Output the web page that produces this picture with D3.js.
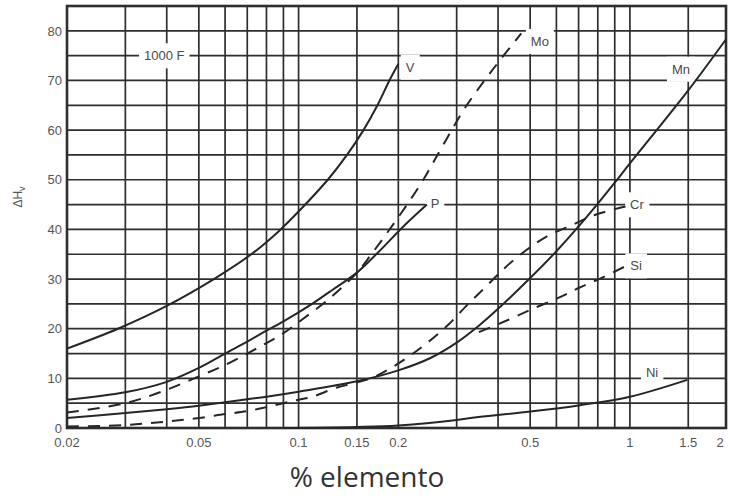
<!DOCTYPE html>
<html>
<head>
<meta charset="utf-8">
<script src="https://cdn.jsdelivr.net/npm/d3@7"></script>
<style>
  html, body { margin: 0; padding: 0; background: #fff; }
  svg { display: block; }
</style>
</head>
<body>
<svg id="chart" width="730" height="499"></svg>
<script>
// Axis values
const xTickLabels = [0.02, 0.05, 0.1, 0.15, 0.2, 0.5, 1, 1.5, 2];
const xGridValues = [0.03, 0.04, 0.05, 0.06, 0.07, 0.08, 0.09, 0.1, 0.15, 0.2,
                     0.3, 0.4, 0.5, 0.6, 0.7, 0.8, 0.9, 1, 1.5];
const yTickLabels = [0, 10, 20, 30, 40, 50, 60, 70, 80];
const yGridValues = [5, 10, 15, 20, 25, 30, 35, 40, 45, 50, 55, 60, 65, 70, 75, 80];

// Hardness increase (ΔHv) after tempering at 1000 F, versus % of each element
const seriesV  = [[0.02,16],[0.0285,20],[0.04,24.6],[0.0555,30],[0.072,35],[0.087,39.6],
                  [0.1,43.6],[0.1225,50],[0.14,55],[0.157,60],[0.173,65],[0.188,70],[0.2,73.3]];
const seriesMo = [[0.02,3.1],[0.03,5.0],[0.04,7.7],[0.05,10.4],[0.06,12.7],[0.07,15.0],
                  [0.08,17.1],[0.09,19.1],[0.1,21.3],[0.125,26.3],[0.15,31.3],[0.165,34.8],
                  [0.185,39.3],[0.21,44.5],[0.238,50],[0.26,54.5],[0.287,59.5],[0.318,64.5],
                  [0.364,70],[0.41,74.5],[0.47,79.5]];
const seriesP  = [[0.02,5.7],[0.03,7.2],[0.04,9.3],[0.05,12.1],[0.06,15.0],[0.07,17.4],
                  [0.08,19.6],[0.09,21.5],[0.1,23.3],[0.111,25.2],[0.127,27.9],[0.15,31.3],
                  [0.174,35.4],[0.205,40.3],[0.244,45]];
const seriesMn = [[0.02,2.0],[0.03,3.0],[0.04,3.8],[0.05,4.5],[0.06,5.2],[0.07,5.8],
                  [0.08,6.3],[0.1,7.3],[0.15,9.4],[0.2,11.6],[0.25,14.1],[0.3,17.2],
                  [0.35,20.6],[0.4,24.0],[0.5,30.2],[0.6,35.6],[0.7,40.6],[0.8,45.2],
                  [0.9,49.4],[1,53.3],[1.5,68],[1.95,78.3]];
const seriesCr = [[0.02,0.3],[0.03,0.6],[0.04,1.3],[0.05,2.0],[0.06,2.8],[0.07,3.4],
                  [0.08,4.2],[0.09,5.0],[0.1,5.7],[0.11,6.3],[0.13,8.1],[0.165,10.0],
                  [0.19,12.1],[0.215,14.4],[0.245,17.2],[0.283,20.8],[0.323,24.8],
                  [0.368,28.5],[0.42,32.3],[0.486,35.8],[0.562,38.6],[0.664,40.8],
                  [0.79,43],[0.97,44.6]];
const seriesSi = [[0.35,19.3],[0.43,21.8],[0.517,24.2],[0.608,26.2],
                  [0.70,28.2],[0.831,30.4],[0.977,32.7]];
const seriesNi = [[0.09,0],[0.15,0.2],[0.2,0.5],[0.3,1.6],[0.33,2.0],[0.5,3.3],
                  [0.707,4.6],[1.0,6.3],[1.49,9.7]];

const curves = [
  { name: "V",  data: seriesV,  dashed: false },
  { name: "Mo", data: seriesMo, dashed: true  },
  { name: "P",  data: seriesP,  dashed: false },
  { name: "Mn", data: seriesMn, dashed: false },
  { name: "Cr", data: seriesCr, dashed: true  },
  { name: "Si", data: seriesSi, dashed: true  },
  { name: "Ni", data: seriesNi, dashed: false }
];

const svg = d3.select("#chart");
const plotL = 67, plotR = 726, plotT = 6, plotB = 428;

const x = d3.scaleLog().domain([0.02, 1.95]).range([plotL, plotR]);
const y = d3.scaleLinear().domain([0, 85]).range([plotB, plotT]);

const gridColor = "#2e2e2e";
const font = "'Liberation Sans', Arial, Helvetica, sans-serif";

// layers: grid, label backgrounds, curves, label text
const gridG  = svg.append("g");
const boxG   = svg.append("g");
const curveG = svg.append("g");
const textG  = svg.append("g");

gridG.selectAll("line.h").data(yGridValues).join("line").attr("class", "h")
  .attr("x1", plotL).attr("x2", plotR)
  .attr("y1", d => y(d)).attr("y2", d => y(d))
  .attr("stroke", gridColor).attr("stroke-width", 1.7);
gridG.selectAll("line.v").data(xGridValues).join("line").attr("class", "v")
  .attr("x1", d => x(d)).attr("x2", d => x(d))
  .attr("y1", plotT).attr("y2", plotB)
  .attr("stroke", gridColor).attr("stroke-width", 1.7);
gridG.append("rect")
  .attr("x", plotL).attr("y", plotT)
  .attr("width", plotR - plotL).attr("height", plotB - plotT)
  .attr("fill", "none").attr("stroke", gridColor).attr("stroke-width", 2.6);

// curve names and the temperature note, placed in data coordinates
const labels = [
  { text: "V",      xv: 0.217, yv: 72.7 },
  { text: "Mo",     xv: 0.535, yv: 77.9 },
  { text: "P",      xv: 0.258, yv: 45.2 },
  { text: "Mn",     xv: 1.426, yv: 72.3 },
  { text: "Cr",     xv: 1.05,  yv: 45.0 },
  { text: "Si",     xv: 1.044, yv: 32.7 },
  { text: "Ni",     xv: 1.167, yv: 11.3 },
  { text: "1000 F", xv: 0.0393, yv: 75.0 }
];

const labelTexts = textG.selectAll("text").data(labels).join("text")
  .attr("x", d => x(d.xv)).attr("y", d => y(d.yv)).attr("dy", "0.36em")
  .attr("text-anchor", "middle")
  .attr("font-family", font).attr("font-size", 13).attr("fill", "#4a4a4a")
  .text(d => d.text);
labelTexts.each(function() {
  const b = this.getBBox();
  boxG.append("rect")
    .attr("x", b.x - 5).attr("y", b.y - 5)
    .attr("width", b.width + 10).attr("height", b.height + 10)
    .attr("fill", "#fff");
});

// curves
const line = d3.line().x(d => x(d[0])).y(d => y(d[1])).curve(d3.curveCatmullRom.alpha(0.5));
curveG.selectAll("path").data(curves).join("path")
  .attr("d", d => line(d.data))
  .attr("fill", "none").attr("stroke", "#262626").attr("stroke-width", 2)
  .attr("stroke-dasharray", d => d.dashed ? "12,9" : null);

// y tick labels
svg.append("g").selectAll("text").data(yTickLabels).join("text")
  .attr("x", plotL - 5).attr("y", d => y(d)).attr("dy", "0.36em")
  .attr("text-anchor", "end")
  .attr("font-family", font).attr("font-size", 13).attr("fill", "#555")
  .text(d => d);

// x tick labels (the last one sits just inside the right edge)
svg.append("g").selectAll("text").data(xTickLabels).join("text")
  .attr("x", d => Math.min(x(d), plotR - 6)).attr("y", plotB + 19)
  .attr("text-anchor", "middle")
  .attr("font-family", font).attr("font-size", 13).attr("fill", "#555")
  .text(d => d);

// y axis title
const yt = svg.append("text")
  .attr("transform", `translate(22,${(plotT + plotB) / 2 - 20}) rotate(-90)`)
  .attr("text-anchor", "middle")
  .attr("font-family", font).attr("font-size", 12).attr("fill", "#555");
yt.append("tspan").text("ΔH");
yt.append("tspan").attr("font-size", 9).attr("dy", 3).text("v");

// x axis title
svg.append("text")
  .attr("x", 367).attr("y", 487)
  .attr("text-anchor", "middle")
  .attr("font-family", "'Open Sans', Lato, sans-serif").attr("font-size", 28)
  .attr("fill", "#333")
  .text("% elemento");
</script>
</body>
</html>
